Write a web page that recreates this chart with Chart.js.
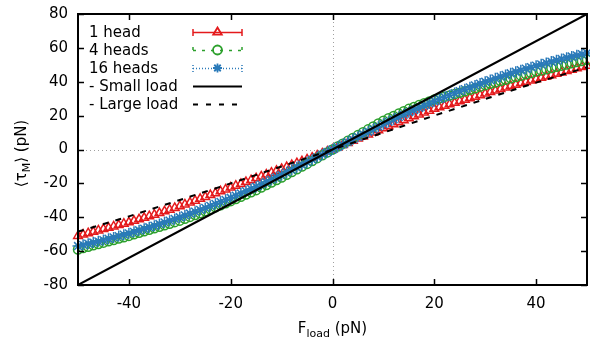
<!DOCTYPE html>
<html>
<head>
<meta charset="utf-8">
<script src="https://cdn.jsdelivr.net/npm/chart.js@4/dist/chart.umd.min.js"></script>
<style>
  body { margin: 0; background: #fff; }
  #wrap { width: 590px; height: 339px; }
</style>
</head>
<body>
<div id="wrap"><canvas id="torqueChart" width="590" height="339"></canvas></div>
<script>
// load force (pN), one marker per pN from -50 to 50
const forceSteps = [];
for (let f = -50; f <= 50; f += 1) forceSteps.push(f);

// <tau_M> (pN), -50 .. 50
const oneHead = [
  -51.0, -50.2, -49.4, -48.6, -47.8, -47.0, -46.2, -45.4, -44.6, -43.8,
  -43.0, -42.1, -41.2, -40.3, -39.4, -38.5, -37.5, -36.5, -35.5, -34.5,
  -33.5, -32.4, -31.3, -30.2, -29.1, -28.0, -26.9, -25.8, -24.7, -23.6,
  -22.5, -21.4, -20.3, -19.2, -18.1, -17.0, -15.9, -14.8, -13.7, -12.6,
  -11.5, -10.4, -9.2, -8.1, -7.0, -5.9, -4.8, -3.6, -2.4, -1.2,
  0,
  1.3, 2.6, 3.9, 5.2, 6.5, 7.7, 8.9, 10.1, 11.3, 12.5,
  13.7, 14.9, 16.1, 17.3, 18.5, 19.6, 20.7, 21.8, 22.9, 24.0,
  24.9, 25.8, 26.7, 27.6, 28.5, 29.4, 30.3, 31.2, 32.1, 33.0,
  33.9, 34.8, 35.7, 36.6, 37.5, 38.3, 39.1, 39.9, 40.7, 41.5,
  42.3, 43.1, 43.9, 44.7, 45.5, 46.3, 47.1, 47.9, 48.7, 49.5
];
const fourHeads = [
  -59.0, -58.2, -57.4, -56.6, -55.8, -55.0, -54.2, -53.4, -52.6, -51.8,
  -51.0, -50.1, -49.2, -48.3, -47.4, -46.5, -45.6, -44.7, -43.8, -42.9,
  -42.0, -40.9, -39.8, -38.7, -37.6, -36.5, -35.3, -34.1, -32.9, -31.7,
  -30.5, -29.2, -27.9, -26.6, -25.3, -24.0, -22.5, -21.0, -19.5, -18.0,
  -16.5, -14.9, -13.3, -11.7, -10.1, -8.5, -6.8, -5.1, -3.4, -1.7,
  0,
  1.7, 3.4, 5.1, 6.8, 8.5, 10.2, 11.9, 13.6, 15.3, 17.0,
  18.4, 19.8, 21.2, 22.6, 24.0, 25.1, 26.2, 27.3, 28.4, 29.5,
  30.3, 31.1, 31.9, 32.7, 33.5, 34.4, 35.3, 36.2, 37.1, 38.0,
  38.8, 39.6, 40.4, 41.2, 42.0, 42.8, 43.6, 44.4, 45.2, 46.0,
  46.7, 47.4, 48.1, 48.8, 49.5, 50.2, 50.9, 51.6, 52.3, 53.0
];
const sixteenHeads = [
  -57.0, -56.3, -55.6, -54.9, -54.2, -53.5, -52.7, -51.9, -51.1, -50.3,
  -49.5, -48.6, -47.7, -46.8, -45.9, -45.0, -44.0, -43.0, -42.0, -41.0,
  -40.0, -38.9, -37.8, -36.7, -35.6, -34.5, -33.3, -32.1, -30.9, -29.7,
  -28.5, -27.2, -25.9, -24.6, -23.3, -22.0, -20.6, -19.2, -17.8, -16.4,
  -15.0, -13.5, -12.0, -10.5, -9.0, -7.5, -6.0, -4.5, -3.0, -1.5,
  0,
  1.5, 3.0, 4.5, 6.0, 7.5, 9.0, 10.5, 12.0, 13.5, 15.0,
  16.4, 17.8, 19.2, 20.6, 22.0, 23.3, 24.6, 25.9, 27.2, 28.5,
  29.7, 30.9, 32.1, 33.3, 34.5, 35.6, 36.7, 37.8, 38.9, 40.0,
  41.0, 42.0, 43.0, 44.0, 45.0, 45.9, 46.8, 47.7, 48.6, 49.5,
  50.3, 51.1, 51.9, 52.7, 53.5, 54.2, 54.9, 55.6, 56.3, 57.0
];

// reference curves
const smallLoadF = [-50, -25, 0, 25, 50];
const smallLoad = [-80, -40, 0, 40, 80];
const largeLoadF = [-50, -40, -30, -20, -10, 0, 10, 20, 30, 40, 50];
const largeLoad = [-48.5, -39.5, -29.8, -20, -10, 0, 10, 20, 29.8, 39.5, 48.5];

const xTicks = [-40, -20, 0, 20, 40];
const yTicks = [-80, -60, -40, -20, 0, 20, 40, 60, 80];

const RED = '#e41a1c';
const GREEN = '#2ca02c';
const BLUE = '#2a7ab9';
const FONT = '"DejaVu Sans", sans-serif';

function toPoints(xs, ys) {
  return ys.map(function(y, i) { return { x: xs[i], y: y }; });
}

// hand drawn marker for the key
function marker(ctx, style, x, y, r) {
  ctx.beginPath();
  if (style === 'triangle') {
    ctx.moveTo(x, y - r);
    ctx.lineTo(x + r * 0.95, y + r * 0.6);
    ctx.lineTo(x - r * 0.95, y + r * 0.6);
    ctx.closePath();
  } else if (style === 'circle') {
    ctx.arc(x, y, r, 0, Math.PI * 2);
  } else if (style === 'star') {
    ctx.moveTo(x - r, y); ctx.lineTo(x + r, y);
    ctx.moveTo(x, y - r); ctx.lineTo(x, y + r);
    let d = r * 0.72;
    ctx.moveTo(x - d, y - d); ctx.lineTo(x + d, y + d);
    ctx.moveTo(x - d, y + d); ctx.lineTo(x + d, y - d);
  }
  ctx.stroke();
}

// frame, inward ticks, dotted zero lines, axis titles and the key
const decor = {
  id: 'decor',
  beforeDatasetsDraw(chart) {
    const ctx = chart.ctx, a = chart.chartArea;
    const x0 = chart.scales.x.getPixelForValue(0);
    const y0 = chart.scales.y.getPixelForValue(0);
    ctx.save();
    ctx.strokeStyle = '#a0a0a0';
    ctx.lineWidth = 1;
    ctx.setLineDash([1, 3]);
    ctx.beginPath();
    ctx.moveTo(Math.round(x0) + 0.5, a.top); ctx.lineTo(Math.round(x0) + 0.5, a.bottom);
    ctx.moveTo(a.left, Math.round(y0) + 0.5); ctx.lineTo(a.right, Math.round(y0) + 0.5);
    ctx.stroke();
    ctx.restore();
  },
  afterDraw(chart) {
    const ctx = chart.ctx, a = chart.chartArea;
    const sx = chart.scales.x, sy = chart.scales.y;
    ctx.save();
    ctx.strokeStyle = '#000';
    ctx.lineWidth = 1.5;
    ctx.setLineDash([]);
    ctx.beginPath();
    xTicks.forEach(function(v) {
      let p = Math.round(sx.getPixelForValue(v)) + 0.5;
      ctx.moveTo(p, a.bottom); ctx.lineTo(p, a.bottom - 6);
      ctx.moveTo(p, a.top); ctx.lineTo(p, a.top + 6);
    });
    yTicks.forEach(function(v) {
      let p = Math.round(sy.getPixelForValue(v)) + 0.5;
      ctx.moveTo(a.left, p); ctx.lineTo(a.left + 6, p);
      ctx.moveTo(a.right, p); ctx.lineTo(a.right - 6, p);
    });
    ctx.stroke();
    ctx.lineWidth = 2;
    ctx.strokeRect(a.left, a.top, a.right - a.left, a.bottom - a.top);

    // axis titles with subscripts
    ctx.fillStyle = '#000';
    ctx.textBaseline = 'alphabetic';
    ctx.textAlign = 'left';
    let big = '15px ' + FONT, small = '11px ' + FONT;
    ctx.font = big;
    let wF = ctx.measureText('F').width, wRest = ctx.measureText(' (pN)').width;
    ctx.font = small;
    let wSub = ctx.measureText('load').width;
    let xs = (a.left + a.right) / 2 - (wF + wSub + wRest) / 2;
    ctx.font = big; ctx.fillText('F', xs, 333);
    ctx.font = small; ctx.fillText('load', xs + wF, 337);
    ctx.font = big; ctx.fillText(' (pN)', xs + wF + wSub, 333);

    ctx.save();
    ctx.translate(26, (a.top + a.bottom) / 2 + 4);
    ctx.rotate(-Math.PI / 2);
    ctx.font = big;
    let w1 = ctx.measureText('\u27E8\u03C4').width, w3 = ctx.measureText('\u27E9 (pN)').width;
    ctx.font = small;
    let w2 = ctx.measureText('M').width;
    let st = -(w1 + w2 + w3) / 2;
    ctx.font = big; ctx.fillText('\u27E8\u03C4', st, 0);
    ctx.font = small; ctx.fillText('M', st + w1, 4);
    ctx.font = big; ctx.fillText('\u27E9 (pN)', st + w1 + w2, 0);
    ctx.restore();

    // key
    const keys = chart.data.datasets;
    const rows = [32, 50, 68, 86, 104];
    ctx.font = big;
    ctx.textBaseline = 'middle';
    keys.forEach(function(ds, i) {
      let y = rows[i];
      ctx.fillStyle = '#000';
      ctx.fillText(ds.label, 89, y + 1);
      ctx.strokeStyle = ds.borderColor;
      ctx.lineWidth = ds.key.width;
      ctx.setLineDash(ds.key.dash);
      ctx.beginPath();
      ctx.moveTo(193, y + 0.5); ctx.lineTo(242, y + 0.5);
      ctx.stroke();
      if (ds.key.caps) {
        ctx.beginPath();
        ctx.moveTo(193, y - 3); ctx.lineTo(193, y + 4);
        ctx.moveTo(242, y - 3); ctx.lineTo(242, y + 4);
        ctx.stroke();
      }
      ctx.setLineDash([]);
      if (ds.key.marker) {
        ctx.lineWidth = 1.8;
        marker(ctx, ds.key.marker, 217.5, y, 4.5);
      }
    });
    ctx.restore();
  }
};

const ctx = document.getElementById('torqueChart').getContext('2d');
const chart = new Chart(ctx, {
  type: 'scatter',
  data: {
    datasets: [{
      label: '1 head',
      data: toPoints(forceSteps, oneHead),
      borderColor: RED,
      backgroundColor: 'rgba(0,0,0,0)',
      pointStyle: 'triangle',
      pointRadius: 5,
      pointBorderWidth: 1.5,
      showLine: false,
      clip: false,
      order: 4,
      key: { caps: true, dash: [], width: 1.5, marker: 'triangle' }
    }, {
      label: '4 heads',
      data: toPoints(forceSteps, fourHeads),
      borderColor: GREEN,
      backgroundColor: 'rgba(0,0,0,0)',
      pointStyle: 'circle',
      pointRadius: 4.5,
      pointBorderWidth: 1.5,
      showLine: false,
      clip: false,
      order: 3,
      key: { caps: true, dash: [3, 6], width: 1.5, marker: 'circle' }
    }, {
      label: '16 heads',
      data: toPoints(forceSteps, sixteenHeads),
      borderColor: BLUE,
      backgroundColor: 'rgba(0,0,0,0)',
      pointStyle: 'star',
      pointRadius: 5.5,
      pointBorderWidth: 1.5,
      showLine: false,
      clip: false,
      order: 2,
      key: { caps: true, dash: [1, 2], width: 1.5, marker: 'star' }
    }, {
      label: '- Small load',
      data: toPoints(smallLoadF, smallLoad),
      borderColor: '#000',
      borderWidth: 2,
      pointRadius: 0,
      showLine: true,
      order: 0,
      key: { caps: false, dash: [], width: 2 }
    }, {
      label: '- Large load',
      data: toPoints(largeLoadF, largeLoad),
      borderColor: '#000',
      borderWidth: 2,
      borderDash: [6, 7],
      pointRadius: 0,
      showLine: true,
      order: 1,
      key: { caps: false, dash: [5, 8], width: 2 }
    }]
  },
  options: {
    responsive: false,
    animation: false,
    layout: { autoPadding: false, padding: { left: 0, top: 14, right: 3, bottom: 0 } },
    plugins: {
      legend: { display: false },
      tooltip: { enabled: false }
    },
    scales: {
      x: {
        type: 'linear',
        min: -50,
        max: 50,
        grid: { display: false, drawTicks: false },
        border: { display: false },
        afterBuildTicks: function(scale) { scale.ticks = xTicks.map(function(v) { return { value: v }; }); },
        afterFit: function(scale) {
          scale.height = 54;
          scale.paddingLeft = 0;
          scale.paddingRight = 0;
        },
        ticks: { color: '#000', padding: 10, font: { family: FONT, size: 15 }, maxRotation: 0 }
      },
      y: {
        type: 'linear',
        min: -80,
        max: 80,
        grid: { display: false, drawTicks: false },
        border: { display: false },
        afterBuildTicks: function(scale) { scale.ticks = yTicks.map(function(v) { return { value: v }; }); },
        afterFit: function(scale) {
          scale.width = 78;
          scale.paddingTop = 0;
          scale.paddingBottom = 0;
        },
        ticks: { color: '#000', padding: 10, font: { family: FONT, size: 15 } }
      }
    }
  },
  plugins: [decor]
});
</script>
</body>
</html>
